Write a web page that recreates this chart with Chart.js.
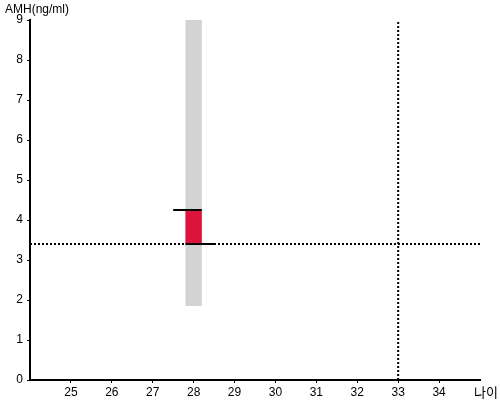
<!DOCTYPE html>
<html>
<head>
<meta charset="utf-8">
<script src="https://cdn.jsdelivr.net/npm/chart.js@4"></script>
<style>
  html, body { margin: 0; padding: 0; background: #fff; }
  #wrap { width: 500px; height: 400px; }
</style>
</head>
<body>
<div id="wrap"><canvas id="amhChart" width="500" height="400"></canvas></div>
<script>
// 데이터
const xTicks = [25, 26, 27, 28, 29, 30, 31, 32, 33, 34];
const yTicks = [0, 1, 2, 3, 4, 5, 6, 7, 8, 9];
const age = 28;
const refAge = 33;
const rangeLow = 1.85, rangeHigh = 9;   // 회색 범위
const myAmh = 4.25;                      // 본인 수치
const avgAmh = 3.4;                      // 평균
const barHalf = 0.2;
const xMin = 24, xMax = 35, yMin = 0, yMax = 9;

// 사각형 (회색 범위, 빨간 막대) - 스케일로 변환해서 그림
const rects = [
  { x0: age - barHalf, x1: age + barHalf, y0: rangeLow, y1: rangeHigh, color: '#d3d3d3' },
  { x0: age - barHalf, x1: age + barHalf, y0: avgAmh, y1: myAmh, color: '#dc143c' }
];

const rectPlugin = {
  id: 'rects',
  beforeDatasetsDraw(chart) {
    const { ctx, scales: { x, y } } = chart;
    ctx.save();
    rects.forEach(r => {
      const px0 = x.getPixelForValue(r.x0), px1 = x.getPixelForValue(r.x1);
      const py0 = y.getPixelForValue(r.y0), py1 = y.getPixelForValue(r.y1);
      ctx.fillStyle = r.color;
      ctx.fillRect(px0, py1, px1 - px0, py0 - py1);
    });
    ctx.restore();
  },
  afterDraw(chart) {
    const { ctx, chartArea } = chart;
    ctx.save();
    ctx.fillStyle = '#000';
    ctx.font = '12px "Liberation Sans", Arial, sans-serif';
    ctx.textBaseline = 'middle';
    ctx.textAlign = 'left';
    ctx.fillText('AMH(ng/ml)', 5, 10);
    ctx.font = '13px "Noto Sans CJK KR", sans-serif';
    ctx.textAlign = 'right';
    ctx.fillText('나이', 498, chartArea.bottom + 12);
    ctx.restore();
  }
};

const solid = { borderColor: '#000', borderWidth: 2, pointRadius: 0, fill: false };
const dotted = { borderColor: '#000', borderWidth: 2, borderDash: [2, 2], pointRadius: 0, fill: false };

new Chart(document.getElementById('amhChart').getContext('2d'), {
  type: 'line',
  data: {
    datasets: [
      Object.assign({ data: [{ x: xMin, y: avgAmh }, { x: xMax, y: avgAmh }] }, dotted),
      Object.assign({ data: [{ x: refAge, y: yMin }, { x: refAge, y: yMax }] }, dotted),
      Object.assign({ data: [{ x: age - 0.5, y: myAmh }, { x: age + barHalf, y: myAmh }] }, solid),
      Object.assign({ data: [{ x: age - barHalf, y: avgAmh }, { x: age + 0.5, y: avgAmh }] }, solid)
    ]
  },
  options: {
    responsive: false,
    animation: false,
    layout: { padding: { top: 20, right: 20, left: 0, bottom: 0 } },
    plugins: {
      legend: { display: false },
      tooltip: { enabled: false }
    },
    scales: {
      x: {
        type: 'linear',
        min: xMin,
        max: xMax,
        afterBuildTicks: s => { s.ticks = xTicks.map(v => ({ value: v })); },
        afterFit: s => { s.height = 20; },
        grid: { display: true, drawOnChartArea: false, drawTicks: true, tickLength: 3, color: '#000' },
        border: { color: '#000', width: 2 },
        ticks: { color: '#000', padding: 2, font: { size: 12, family: '"Liberation Sans", Arial, sans-serif' } }
      },
      y: {
        type: 'linear',
        min: yMin,
        max: yMax,
        afterBuildTicks: s => { s.ticks = yTicks.map(v => ({ value: v })); },
        afterFit: s => { s.width = 30; },
        grid: { display: true, drawOnChartArea: false, drawTicks: true, tickLength: 3, color: '#000' },
        border: { color: '#000', width: 2 },
        ticks: { color: '#000', padding: 4, font: { size: 12, family: '"Liberation Sans", Arial, sans-serif' } }
      }
    }
  },
  plugins: [rectPlugin]
});
</script>
</body>
</html>
